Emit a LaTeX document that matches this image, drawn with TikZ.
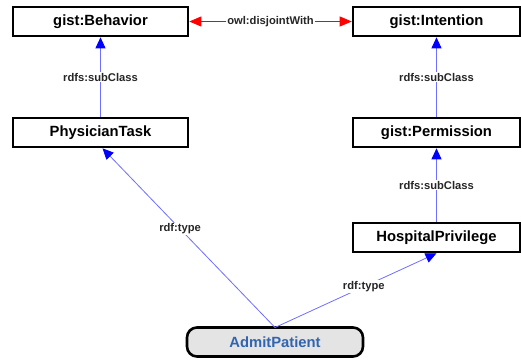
\documentclass[tikz,border=0pt]{standalone}
\usepackage{fontspec}
\setmainfont{Liberation Sans}
\usetikzlibrary{arrows.meta}
\definecolor{edgeblue}{RGB}{110,110,255}
\definecolor{tipblue}{RGB}{0,0,255}
\definecolor{apblue}{RGB}{50,100,175}
\definecolor{apfill}{RGB}{228,228,228}
\begin{document}
\begin{tikzpicture}[x=1pt,y=-1pt,
  cls/.style={draw=black,line width=2.6pt,minimum width=175pt,minimum height=29pt,inner sep=0pt,font=\fontsize{14.8}{16}\selectfont\bfseries},
  inst/.style={cls,rounded corners=10pt,fill=apfill,text=apblue},
  sub/.style={draw=edgeblue,line width=0.8pt,-{Triangle[length=11pt,width=10pt,color=tipblue]}},
  dis/.style={draw=red,line width=0.8pt,{Triangle[length=12pt,width=10pt]}-{Triangle[length=12pt,width=10pt]}},
  lbl/.style={fill=white,inner sep=1pt,font=\fontsize{11.2}{12}\selectfont\bfseries,text=black!85}]
\useasboundingbox (0,0) rectangle (522,360);
\node[cls] (beh) at (100.5,21.5) {gist:Behavior};
\node[cls,minimum width=167pt] (int) at (436.5,21.5) {gist:Intention};
\node[cls] (phy) at (100.5,132.5) {PhysicianTask};
\node[cls,minimum width=167pt] (per) at (436.5,132.5) {gist:Permission};
\node[cls,minimum width=167pt] (hos) at (436.5,237.5) {HospitalPrivilege};
\node[inst,minimum width=176pt] (adm) at (275,342) {AdmitPatient};
\coordinate (top) at (275,327.5);
\draw[dis,red] (beh.east) -- node[lbl]{owl:disjointWith} (int.west);
\draw[sub] (phy.north) -- node[lbl]{rdfs:subClass} (beh.south);
\draw[sub] (per.north) -- node[lbl]{rdfs:subClass} (int.south);
\draw[sub] (hos.north) -- node[lbl]{rdfs:subClass} (per.south);
\draw[sub] (top) -- node[lbl,pos=0.55]{rdf:type} ([xshift=2pt]phy.south);
\draw[sub] (top) -- node[lbl,pos=0.55]{rdf:type} (hos.south);
\end{tikzpicture}
\end{document}
